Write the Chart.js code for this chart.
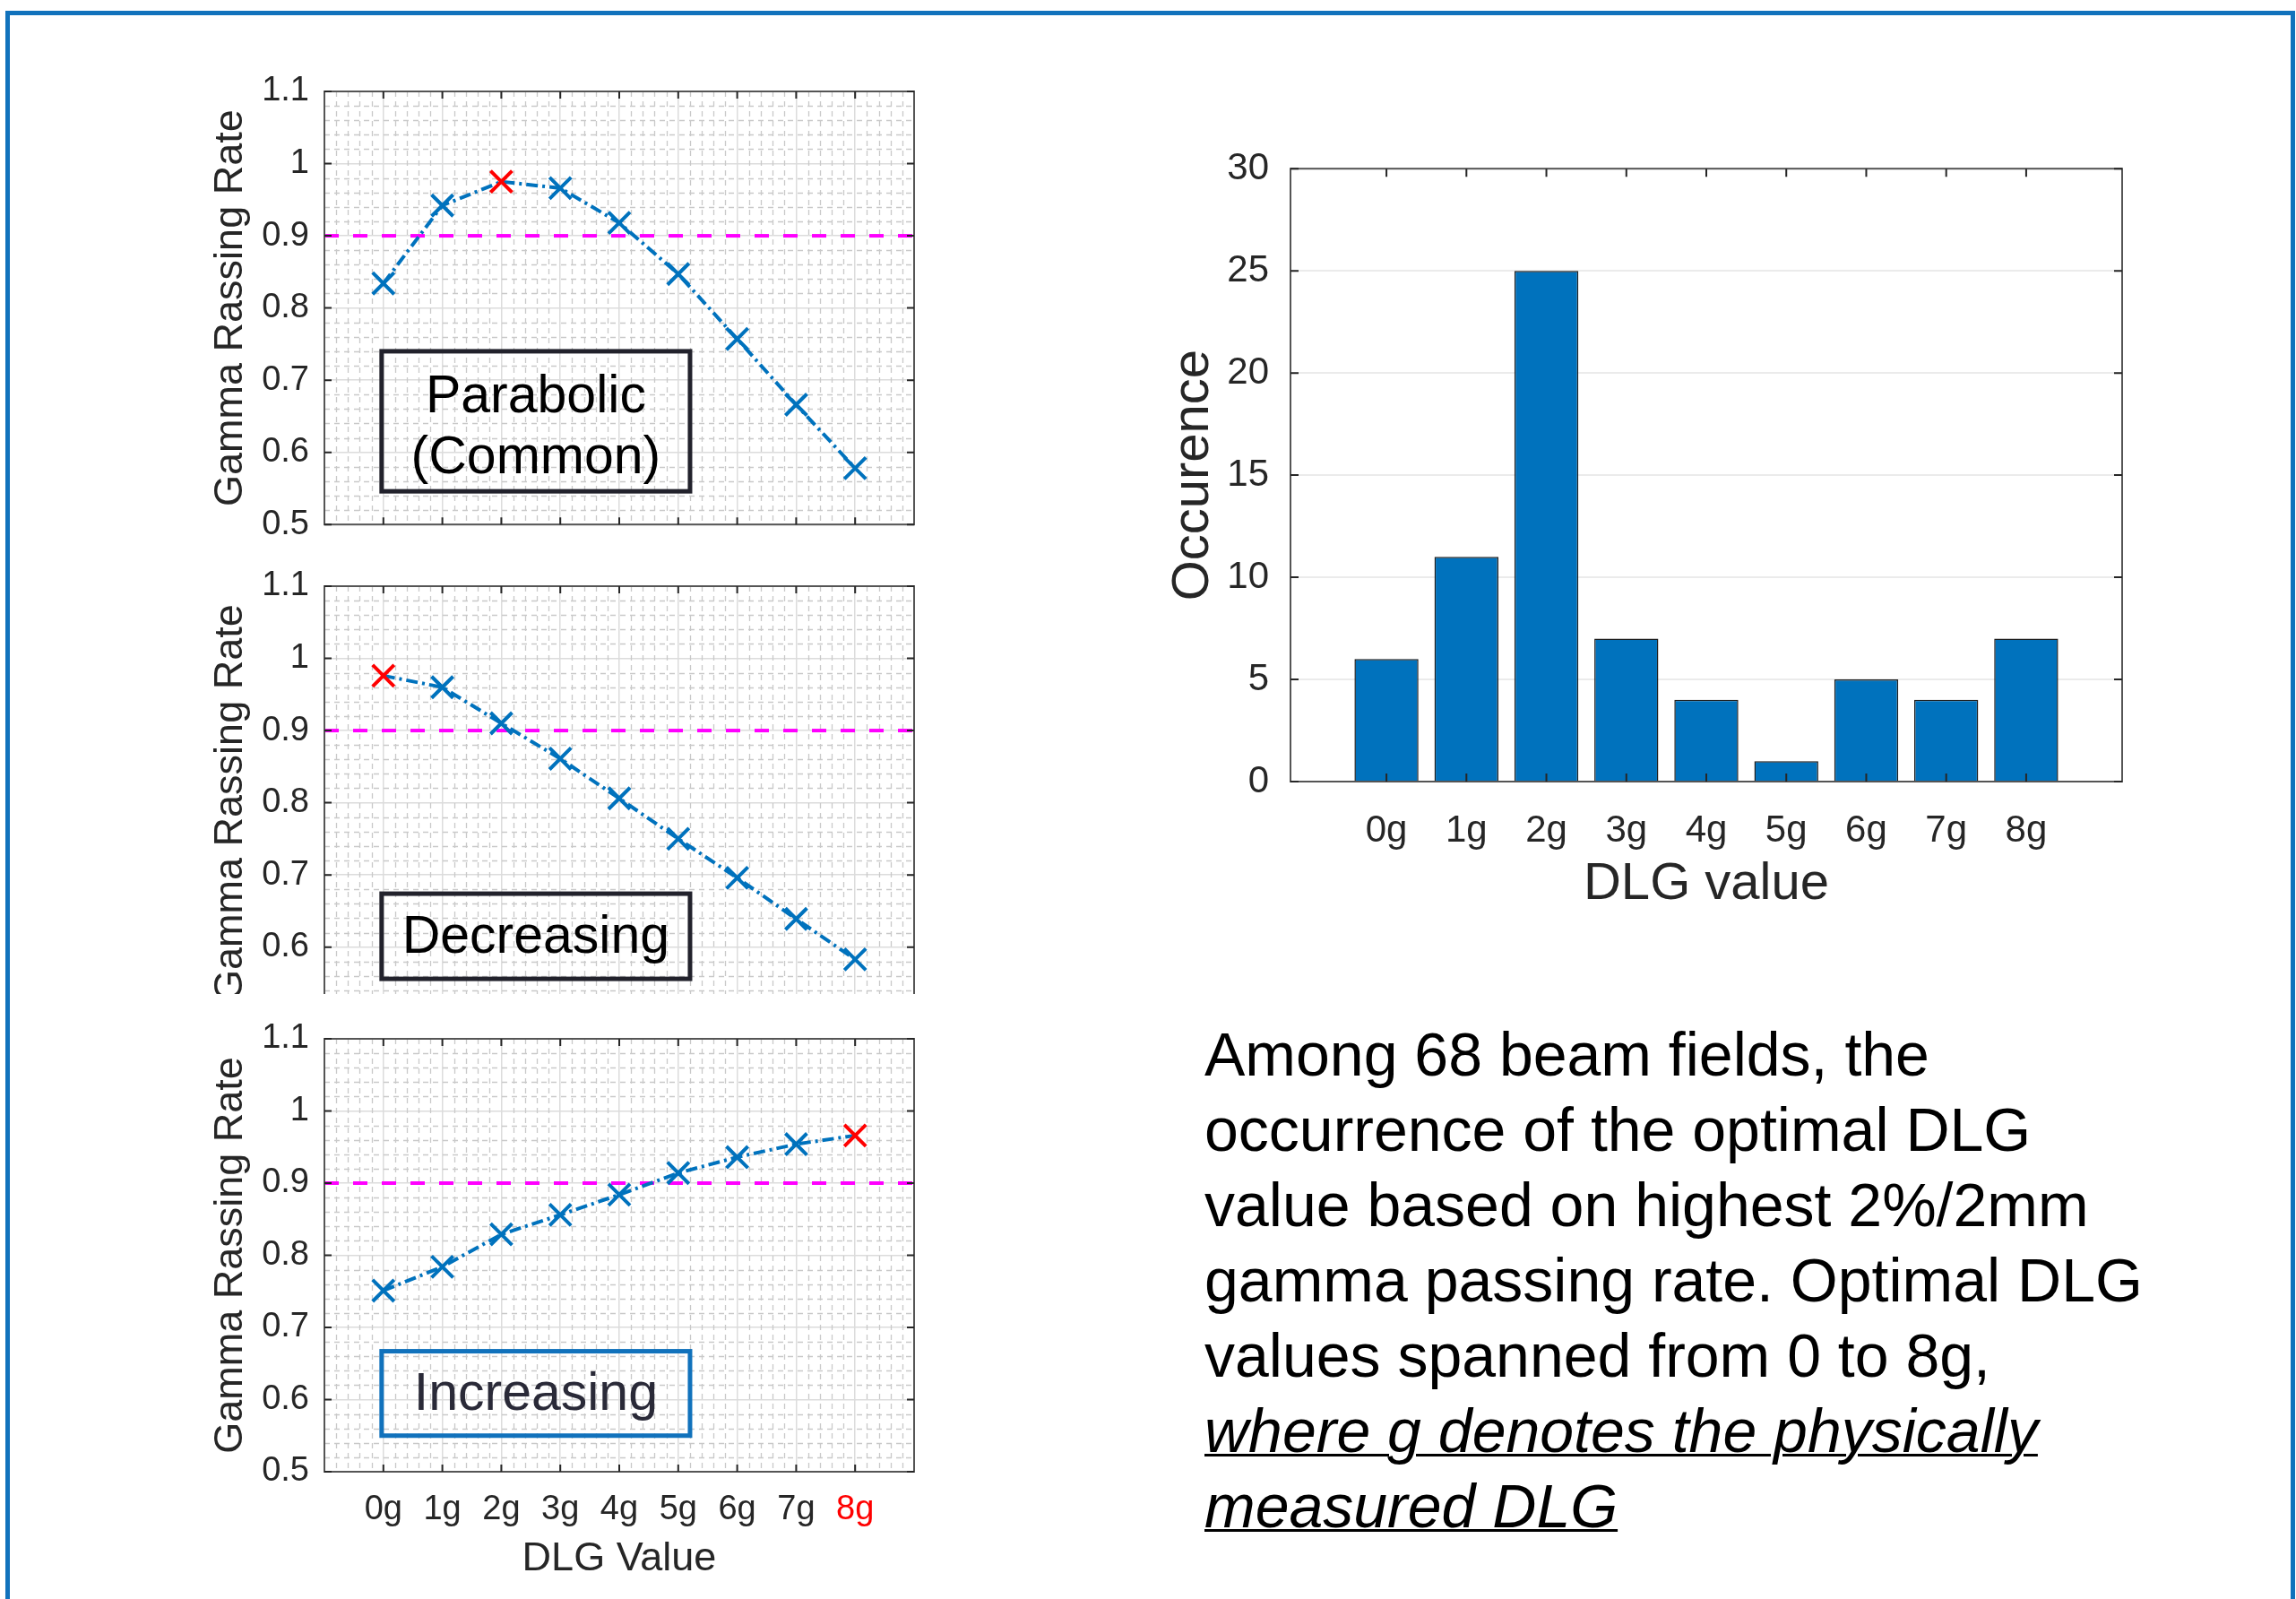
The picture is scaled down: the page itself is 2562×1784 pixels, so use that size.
<!DOCTYPE html>
<html>
<head>
<meta charset="utf-8">
<script src="https://cdn.jsdelivr.net/npm/chart.js@4.4.1/dist/chart.umd.min.js"></script>
<style>
  html, body { margin: 0; padding: 0; background: #fff; width: 2562px; height: 1784px; overflow: hidden; }
  body { position: relative; font-family: 'Liberation Sans', Arial, sans-serif; }
  .frame { position: absolute; left: 6px; top: 12px; width: 2555px; height: 1840px; border: 5px solid #1172BC; box-sizing: border-box; }
  canvas { position: absolute; }
  #clip2 { position: absolute; left: 200px; top: 612px; width: 860px; height: 497px; overflow: hidden; }
  .note { position: absolute; left: 1344px; top: 1134px; font-size: 68px; line-height: 84px; color: #000; white-space: nowrap; }
  .note i { text-decoration: underline; text-decoration-thickness: 3px; }
</style>
</head>
<body>
<div class="frame"></div>
<canvas id="parabolic" width="860" height="565" style="left:200px; top:60px"></canvas>
<div id="clip2"><canvas id="decreasing" width="860" height="565" style="left:0; top:0"></canvas></div>
<canvas id="increasing" width="860" height="667" style="left:200px; top:1117px"></canvas>
<canvas id="bar" width="1180" height="911" style="left:1240px; top:139px"></canvas>
<div class="note">
  <div>Among 68 beam fields, the</div>
  <div>occurrence of the optimal DLG</div>
  <div>value based on highest 2%/2mm</div>
  <div>gamma passing rate. Optimal DLG</div>
  <div>values spanned from 0 to 8g,</div>
  <div><i>where g denotes the physically</i></div>
  <div><i>measured DLG</i></div>
</div>
<script>
// values
const dlgLabels = ['0g', '1g', '2g', '3g', '4g', '5g', '6g', '7g', '8g'];
const dlgIndex = [0, 1, 2, 3, 4, 5, 6, 7, 8];
const parabolicRate = [0.834, 0.942, 0.975, 0.966, 0.918, 0.847, 0.757, 0.666, 0.578];
const decreasingRate = [0.976, 0.960, 0.910, 0.861, 0.806, 0.750, 0.696, 0.639, 0.583];
const increasingRate = [0.751, 0.784, 0.829, 0.856, 0.884, 0.914, 0.936, 0.954, 0.966];
const passThreshold = 0.9;
const rateTicks = [0.5, 0.6, 0.7, 0.8, 0.9, 1.0, 1.1];
const rateTickLabels = ['0.5', '0.6', '0.7', '0.8', '0.9', '1', '1.1'];
const occurrence = [6, 11, 25, 7, 4, 1, 5, 4, 7];
const occurrenceTicks = [0, 5, 10, 15, 20, 25, 30];

const FONT = "'Liberation Sans', Arial, sans-serif";
const INK = '#262626';
const BLUE = '#0072BD';
Chart.defaults.font.family = FONT;

// matlab style: minor dashed grid, box frame, inward ticks, text boxes
const matlabAxes = {
  id: 'matlabAxes',
  beforeDatasetsDraw(chart, args, o) {
    if (!o.minor) return;
    const {ctx, chartArea: a, scales: {x, y}} = chart;
    ctx.save();
    ctx.strokeStyle = '#c9c9c9';
    ctx.lineWidth = 1.3;
    ctx.setLineDash([6, 5]);
    ctx.beginPath();
    const nx = Math.round((x.max - x.min) / o.minor[0]);
    for (let i = 1; i < nx; i++) {
      if (i % 5 === 0) continue;
      const px = Math.round(x.getPixelForValue(x.min + i * o.minor[0])) + 0.5;
      ctx.moveTo(px, a.top); ctx.lineTo(px, a.bottom);
    }
    const ny = Math.round((y.max - y.min) / o.minor[1]);
    for (let i = 1; i < ny; i++) {
      if (i % 5 === 0) continue;
      const py = Math.round(y.getPixelForValue(y.min + i * o.minor[1])) + 0.5;
      ctx.moveTo(a.left, py); ctx.lineTo(a.right, py);
    }
    ctx.stroke();
    ctx.restore();
  },
  afterDatasetsDraw(chart, args, o) {
    const {ctx, chartArea: a, scales: {x, y}} = chart;
    ctx.save();
    (o.boxes || []).forEach(b => {
      const l = x.getPixelForValue(b.x0), r = x.getPixelForValue(b.x1);
      const t = y.getPixelForValue(b.y1), bt = y.getPixelForValue(b.y0);
      ctx.setLineDash([]);
      ctx.lineWidth = 5;
      ctx.strokeStyle = b.color;
      ctx.strokeRect(l, t, r - l, bt - t);
      ctx.fillStyle = b.textColor;
      ctx.font = b.size + 'px ' + FONT;
      ctx.textAlign = 'center';
      ctx.textBaseline = 'middle';
      const cx = (l + r) / 2, cy = (t + bt) / 2 + (b.dy || 0);
      b.lines.forEach((s, k) => ctx.fillText(s, cx, cy + (k - (b.lines.length - 1) / 2) * b.gap));
    });
    ctx.setLineDash([]);
    ctx.strokeStyle = '#555';
    ctx.lineWidth = 2;
    ctx.strokeRect(a.left, a.top, a.right - a.left, a.bottom - a.top);
    ctx.strokeStyle = INK;
    ctx.beginPath();
    const L = o.tickLen;
    o.xTicks.forEach(v => {
      const px = x.getPixelForValue(v);
      ctx.moveTo(px, a.bottom); ctx.lineTo(px, a.bottom - L);
      ctx.moveTo(px, a.top); ctx.lineTo(px, a.top + L);
    });
    o.yTicks.forEach(v => {
      const py = y.getPixelForValue(v);
      ctx.moveTo(a.left, py); ctx.lineTo(a.left + L, py);
      ctx.moveTo(a.right, py); ctx.lineTo(a.right - L, py);
    });
    ctx.stroke();
    ctx.restore();
  }
};

function ratePanel(id, rates, showX, box) {
  const best = rates.indexOf(Math.max(...rates));
  return new Chart(document.getElementById(id), {
    type: 'line',
    data: {
      datasets: [{
        data: dlgIndex.map((v, i) => ({x: v, y: rates[i]})),
        borderColor: BLUE,
        borderWidth: 4,
        borderDash: [13, 5, 3, 5],
        pointStyle: 'crossRot',
        pointRadius: 17,
        pointBorderWidth: 4,
        pointBorderColor: rates.map((_, i) => i === best ? '#FF0000' : BLUE),
        pointBackgroundColor: 'rgba(0,0,0,0)',
        tension: 0,
        fill: false
      }, {
        data: [{x: -1, y: passThreshold}, {x: 9, y: passThreshold}],
        borderColor: '#FF00FF',
        borderWidth: 4,
        borderDash: [16, 16],
        pointRadius: 0,
        fill: false
      }]
    },
    options: {
      responsive: false,
      animation: false,
      devicePixelRatio: 1,
      events: [],
      layout: {padding: {top: 42, right: 40, bottom: 0, left: 0}},
      scales: {
        x: {
          type: 'linear', min: -1, max: 9,
          afterBuildTicks: s => { s.ticks = dlgIndex.map(v => ({value: v})); },
          afterFit: s => { s.height = showX ? 142 : 0; },
          grid: {color: '#dcdcdc', lineWidth: 1.5, drawTicks: false},
          border: {display: false},
          ticks: {
            display: showX, padding: 20, autoSkip: false, maxRotation: 0,
            font: {size: 38},
            color: c => c.index === best ? '#FF0000' : INK,
            callback: v => dlgLabels[v] ?? ''
          },
          title: {display: showX, text: 'DLG Value', color: INK, font: {size: 45}, padding: {top: 0, bottom: 17}}
        },
        y: {
          min: 0.5, max: 1.1,
          afterBuildTicks: s => { s.ticks = rateTicks.map(v => ({value: v})); },
          afterFit: s => { s.width = 162; },
          grid: {color: '#dcdcdc', lineWidth: 1.5, drawTicks: false},
          border: {display: false},
          ticks: {padding: 17, color: INK, font: {size: 38}, callback: (v, i) => rateTickLabels[i]},
          title: {display: true, text: 'Gamma Rassing Rate', color: INK, font: {size: 45}, padding: {top: 31, bottom: 0}}
        }
      },
      plugins: {
        legend: {display: false},
        tooltip: {enabled: false},
        matlabAxes: {minor: [0.2, 0.02], xTicks: dlgIndex, yTicks: rateTicks, tickLen: 8, boxes: [box]}
      }
    },
    plugins: [matlabAxes]
  });
}

ratePanel('parabolic', parabolicRate, false,
  {x0: -0.03, x1: 5.2, y0: 0.546, y1: 0.74, color: '#22222c', textColor: '#000', size: 59, gap: 68, dy: 8, lines: ['Parabolic', '(Common)']});
ratePanel('decreasing', decreasingRate, false,
  {x0: -0.03, x1: 5.2, y0: 0.556, y1: 0.674, color: '#22222c', textColor: '#000', size: 59, gap: 0, dy: 2, lines: ['Decreasing']});
ratePanel('increasing', increasingRate, true,
  {x0: -0.03, x1: 5.2, y0: 0.55, y1: 0.667, color: '#1172BC', textColor: '#2a2a38', size: 59, gap: 0, dy: 2, lines: ['Increasing']});

new Chart(document.getElementById('bar'), {
  type: 'bar',
  data: {
    datasets: [{
      data: dlgIndex.map((v, i) => ({x: v, y: occurrence[i]})),
      backgroundColor: BLUE,
      borderColor: '#1e1e1e',
      borderWidth: 1.5,
      barPercentage: 0.8,
      categoryPercentage: 1
    }]
  },
  options: {
    responsive: false,
    animation: false,
    devicePixelRatio: 1,
    events: [],
    layout: {padding: {top: 48, right: 52, bottom: 0, left: 0}},
    scales: {
      x: {
        type: 'linear', min: -1.2, max: 9.2, offset: false,
        afterBuildTicks: s => { s.ticks = dlgIndex.map(v => ({value: v})); },
        afterFit: s => { s.height = 178; },
        grid: {display: false, drawTicks: false, offset: false},
        border: {display: false},
        ticks: {padding: 30, color: INK, font: {size: 42}, autoSkip: false, maxRotation: 0,
                callback: v => dlgLabels[v] ?? ''},
        title: {display: true, text: 'DLG value', color: INK, font: {size: 58}, padding: {top: 0, bottom: 28}}
      },
      y: {
        min: 0, max: 30,
        afterBuildTicks: s => { s.ticks = occurrenceTicks.map(v => ({value: v})); },
        afterFit: s => { s.width = 200; },
        grid: {color: '#ebebeb', lineWidth: 2, drawTicks: false},
        border: {display: false},
        ticks: {padding: 24, color: INK, font: {size: 42}},
        title: {display: true, text: 'Occurence', color: INK, font: {size: 58}, padding: {top: 57, bottom: 0}}
      }
    },
    plugins: {
      legend: {display: false},
      tooltip: {enabled: false},
      matlabAxes: {xTicks: dlgIndex, yTicks: occurrenceTicks, tickLen: 9}
    }
  },
  plugins: [matlabAxes]
});
</script>
</body>
</html>
